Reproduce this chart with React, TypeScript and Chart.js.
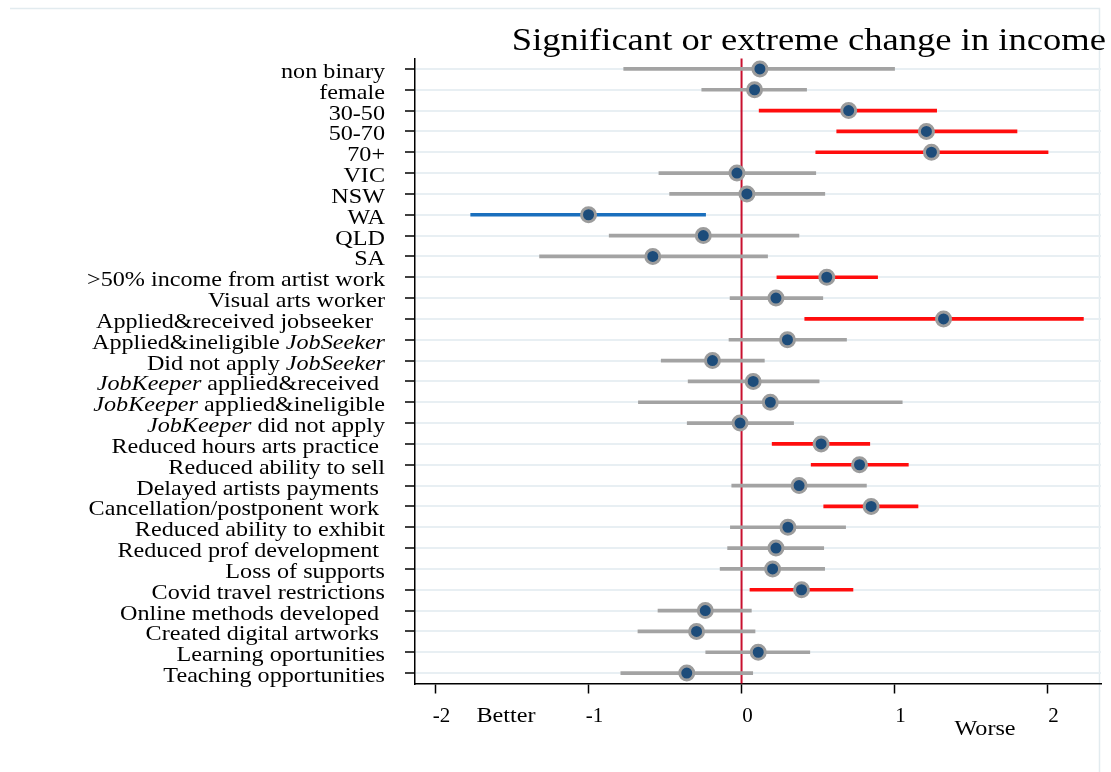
import React, { useEffect, useRef } from "react";
import { Chart, registerables } from "chart.js";

Chart.register(...registerables);

// Category labels ({...} marks italic text)
const categories: string[] = [
  "non binary",
  "female",
  "30-50",
  "50-70",
  "70+",
  "VIC",
  "NSW",
  "WA",
  "QLD",
  "SA",
  ">50% income from artist work",
  "Visual arts worker",
  "Applied&received jobseeker  ",
  "Applied&ineligible {JobSeeker}",
  "Did not apply {JobSeeker}",
  "{JobKeeper} applied&received ",
  "{JobKeeper} applied&ineligible",
  "{JobKeeper} did not apply",
  "Reduced hours arts practice ",
  "Reduced ability to sell",
  "Delayed artists payments ",
  "Cancellation/postponent work ",
  "Reduced ability to exhibit",
  "Reduced prof development ",
  "Loss of supports",
  "Covid travel restrictions",
  "Online methods developed ",
  "Created digital artworks ",
  "Learning oportunities",
  "Teaching opportunities",
];

const estimates: number[] = [
  0.12, 0.085, 0.7, 1.208, 1.241, -0.03, 0.035, -1.0, -0.25, -0.58,
  0.557, 0.225, 1.32, 0.3, -0.19, 0.076, 0.188, -0.01, 0.52, 0.771,
  0.376, 0.847, 0.303, 0.225, 0.203, 0.392, -0.237, -0.294, 0.109, -0.358,
];

const lower: number[] = [
  -0.77, -0.26, 0.115, 0.622, 0.485, -0.54, -0.47, -1.77, -0.865, -1.32,
  0.231, -0.075, 0.413, -0.082, -0.525, -0.349, -0.674, -0.355, 0.2, 0.455,
  -0.064, 0.537, -0.073, -0.091, -0.14, 0.055, -0.546, -0.677, -0.234, -0.789,
];

const upper: number[] = [
  1.0, 0.425, 1.275, 1.8, 2.003, 0.485, 0.544, -0.235, 0.375, 0.17,
  0.889, 0.531, 2.234, 0.686, 0.149, 0.507, 1.05, 0.34, 0.838, 1.09,
  0.816, 1.153, 0.68, 0.537, 0.543, 0.728, 0.064, 0.088, 0.446, 0.073,
];

const xTicks: number[] = [-2, -1, 0, 1, 2];
const xMin = -2.134;
const xMax = 2.349;

const titleText = "Significant or extreme change in income";
const betterText = "Better";
const worseText = "Worse";

const SERIF = "'Liberation Serif', 'Times New Roman', serif";
const RED = "#ff0d0d";
const BLUE = "#1a6fbd";
const GRAY = "#a3a3a3";
const DOT = "#1d4c7a";
const DOT_EDGE = "#9c9c9c";
const GRID = "#e8eff3";
const ZERO = "#c8102e";
const FRAME = "#e2ebef";
const SX = 1.15;

function parseSegments(label: string): { text: string; italic: boolean }[] {
  const out: { text: string; italic: boolean }[] = [];
  const re = /\{([^}]*)\}|([^{]+)/g;
  let m: RegExpExecArray | null;
  while ((m = re.exec(label))) {
    if (m[1] !== undefined) out.push({ text: m[1], italic: true });
    else out.push({ text: m[2], italic: false });
  }
  return out;
}

function drawStretched(
  ctx: CanvasRenderingContext2D,
  text: string,
  x: number,
  y: number,
  align: CanvasTextAlign,
  font: string,
  sx: number
) {
  ctx.save();
  ctx.font = font;
  ctx.textAlign = align;
  ctx.textBaseline = "alphabetic";
  ctx.fillStyle = "#000";
  ctx.translate(x, y);
  ctx.scale(sx, 1);
  ctx.fillText(text, 0, 0);
  ctx.restore();
}

const decorPlugin = {
  id: "decor",
  beforeDraw(chart: any) {
    const ctx: CanvasRenderingContext2D = chart.ctx;
    ctx.save();
    ctx.fillStyle = "#fff";
    ctx.fillRect(0, 0, chart.width, chart.height);
    ctx.strokeStyle = FRAME;
    ctx.lineWidth = 1.5;
    ctx.beginPath();
    ctx.moveTo(10, 8.5);
    ctx.lineTo(1099.5, 8.5);
    ctx.lineTo(1099.5, chart.height);
    ctx.stroke();
    ctx.restore();
  },
  beforeDatasetsDraw(chart: any) {
    const ctx: CanvasRenderingContext2D = chart.ctx;
    const xs = chart.scales.x;
    const area = chart.chartArea;
    const px = xs.getPixelForValue(0);
    ctx.save();
    ctx.strokeStyle = ZERO;
    ctx.lineWidth = 2;
    ctx.beginPath();
    ctx.moveTo(px, area.top);
    ctx.lineTo(px, area.bottom);
    ctx.stroke();
    ctx.restore();
  },
  afterDraw(chart: any) {
    const ctx: CanvasRenderingContext2D = chart.ctx;
    const ys = chart.scales.y;
    const right = 385;
    categories.forEach((label, i) => {
      const y = ys.getPixelForValue(i) + 9;
      const segs = parseSegments(label);
      const fonts = segs.map((s) => (s.italic ? "italic " : "") + "21px " + SERIF);
      let total = 0;
      const widths = segs.map((s, k) => {
        ctx.font = fonts[k];
        const w = ctx.measureText(s.text).width;
        total += w;
        return w;
      });
      let x = right - total * SX;
      segs.forEach((s, k) => {
        drawStretched(ctx, s.text, x, y, "left", fonts[k], SX);
        x += widths[k] * SX;
      });
    });
    drawStretched(ctx, titleText, 1106, 50, "right", "31px " + SERIF, 1.18);
    drawStretched(ctx, betterText, 506, 722, "center", "21px " + SERIF, SX);
    drawStretched(ctx, worseText, 985, 735, "center", "21px " + SERIF, SX);
  },
};

export default function App() {
  const ref = useRef<HTMLCanvasElement>(null);
  useEffect(() => {
    const canvas = ref.current;
    if (!canvas) return;
    const plainLabels = categories.map((c) => c.replace(/[{}]/g, ""));
    const barColors = lower.map((lo, i) => (lo > 0 ? RED : upper[i] < 0 ? BLUE : GRAY));
    const chart = new Chart(canvas, {
      type: "bar",
      data: {
        labels: plainLabels,
        datasets: [
          {
            type: "line",
            label: "Estimate",
            data: estimates,
            indexAxis: "y",
            showLine: false,
            pointStyle: "circle",
            pointRadius: 7,
            pointBorderWidth: 3,
            pointBackgroundColor: DOT,
            pointBorderColor: DOT_EDGE,
            order: 1,
          } as any,
          {
            type: "bar",
            label: "95% CI",
            data: lower.map((lo, i) => [lo, upper[i]]),
            backgroundColor: barColors,
            barThickness: 3,
            borderWidth: 0,
            order: 2,
          } as any,
        ],
      },
      options: {
        indexAxis: "y",
        responsive: false,
        animation: false,
        events: [],
        layout: { padding: { left: 405, right: 8, top: 58.5, bottom: 48.5 } },
        plugins: {
          legend: { display: false },
          tooltip: { enabled: false },
          title: { display: false },
        },
        scales: {
          x: {
            type: "linear",
            min: xMin,
            max: xMax,
            afterBuildTicks: (s: any) => {
              s.ticks = xTicks.map((v) => ({ value: v }));
            },
            afterFit: (s: any) => {
              s.height = 40;
            },
            border: { color: "#000", width: 1.5 },
            grid: {
              drawOnChartArea: false,
              drawTicks: true,
              tickLength: 10,
              tickColor: "#000",
              tickWidth: 1.5,
            },
            ticks: {
              font: { family: SERIF, size: 21 },
              color: "#000",
              padding: 10,
              labelOffset: 6,
              maxRotation: 0,
              autoSkip: false,
              callback: (v: any) => String(v),
            },
          },
          y: {
            type: "category",
            offset: true,
            afterFit: (s: any) => {
              s.width = 10;
            },
            border: { color: "#000", width: 1.5 },
            grid: {
              color: GRID,
              lineWidth: 2,
              offset: false,
              drawTicks: true,
              tickLength: 10,
              tickColor: "#000",
              tickWidth: 1.5,
            },
            ticks: { display: false, autoSkip: false },
          },
        },
      } as any,
      plugins: [decorPlugin],
    });
    return () => chart.destroy();
  }, []);

  return (
    <div style={{ position: "absolute", left: 0, top: 0, width: 1111, height: 772 }}>
      <canvas ref={ref} width={1111} height={772} style={{ display: "block" }} />
    </div>
  );
}
